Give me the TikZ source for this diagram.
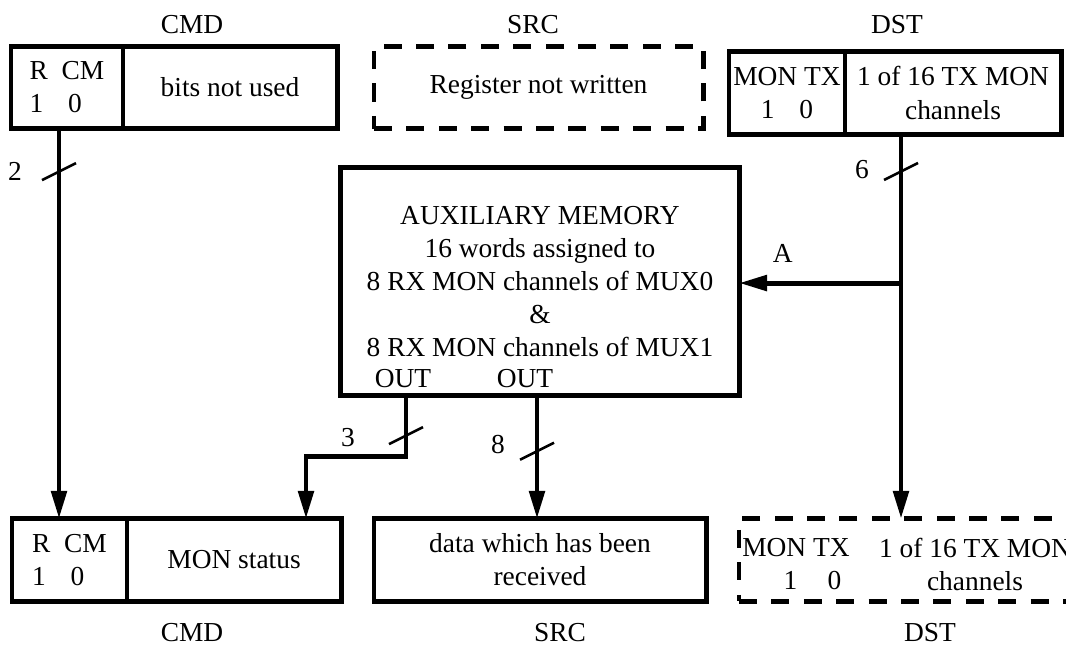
\documentclass[tikz,border=0pt]{standalone}
\usepackage{fontspec}
\setmainfont{Liberation Serif}
\usetikzlibrary{positioning,arrows.meta,calc}

\begin{document}
\begin{tikzpicture}[
    x=0.025cm, y=-0.025cm,
    font=\fontsize{19.5pt}{23.5pt}\selectfont,
    reg/.style={rectangle, draw, line width=3.5pt, inner sep=0pt, outer sep=0pt, align=center, minimum height=2.06cm},
    regdash/.style={reg, dash pattern=on 0.45cm off 0.36cm},
    arrow/.style={-{Triangle[length=0.7cm, width=0.38cm]}, line width=3.5pt},
    slash/.style={line width=1.8pt},
    head/.style={anchor=base},
    num/.style={inner sep=0pt},
]
\clip (0,0) rectangle (1066,645);

% ---- input registers (top row) ----
\node[reg, minimum width=2.8cm, align=left] (cmdin) at (67,87.5) {R\enspace CM\\1\hspace{0.9em}0};
\node[reg, minimum width=5.35cm, right=0pt of cmdin] (cmdinx) {bits not used};
\node[regdash, minimum width=8.225cm] (srcin) at (538.5,87.5) {Register not written};
\node[reg, minimum width=2.9cm] (dstin) at (787,93) {MON TX\\1\hspace{0.9em}0};
\node[reg, minimum width=5.4cm, right=0pt of dstin] (dstinx) {1 of 16 TX MON\\channels};

\node[head] at (192,33) {CMD};
\node[head] at (533,33) {SRC};
\node[head] at (897,33) {DST};

% ---- auxiliary memory ----
\node[reg, minimum width=9.95cm, minimum height=5.72cm] (aux) at (540,281.5) {AUXILIARY MEMORY\\16 words assigned to\\8 RX MON channels of MUX0\\\&\\8 RX MON channels of MUX1};
\node[head] (outl) at (403,387) {OUT};
\node[head] (outr) at (525,387) {OUT};

% ---- output registers (bottom row) ----
\node[reg, minimum width=2.875cm, align=left] (cmdout) at (69.5,560) {R\enspace CM\\1\hspace{0.9em}0};
\node[reg, minimum width=5.35cm, right=0pt of cmdout] (cmdoutx) {MON status};
\node[reg, minimum width=8.3cm] (srcout) at (540,560) {data which has been\\received};
\node[regdash, minimum width=8.55cm] (dstout) at (910,560) {};
\node[align=center] (dstoutl) at (796,564) {MON TX\\\hspace{1.2em}1\hspace{1.1em}0};
\node[align=center] (dstoutr) at (975,564) {1 of 16 TX MON\\channels};

\node[head] at (192,641) {CMD};
\node[head] at (560,641) {SRC};
\node[head] at (930,641) {DST};

% ---- connectors ----
\coordinate (cmdx) at (59,0);
\coordinate (dstx) at (901,0);
\coordinate (stepx) at (306,0);
\coordinate (outx) at (406,0);
\coordinate (datx) at (537,0);

\draw[arrow] (cmdin.south -| cmdx) -- coordinate[pos=0.11] (s2) (cmdout.north -| cmdx);
\draw[arrow] (dstinx.south -| dstx) -- coordinate[pos=0.097] (s6) coordinate[pos=0.387] (tapA) (dstout.north -| dstx);
\draw[arrow] (tapA) -- node[pos=0.73, above=0.45cm, inner sep=0pt] {A} (aux.east |- tapA);
\draw[arrow] (aux.south -| outx) -- coordinate[pos=0.65] (s3) ++(0,61) -| (cmdoutx.north -| stepx);
\draw[arrow] (aux.south -| datx) -- coordinate[pos=0.45] (s8) (srcout.north -| datx);

% bus width marks
\foreach \s in {s2,s6,s3,s8}
  \draw[slash] ($(\s)+(-17,8.5)$) -- ($(\s)+(17,-8.5)$);
\node[num] at ($(s2)+(-44,0)$) {2};
\node[num] at ($(s6)+(-39,-1.5)$) {6};
\node[num] at ($(s3)+(-58,1.5)$) {3};
\node[num] at ($(s8)+(-39,-6.5)$) {8};

\end{tikzpicture}
\end{document}
